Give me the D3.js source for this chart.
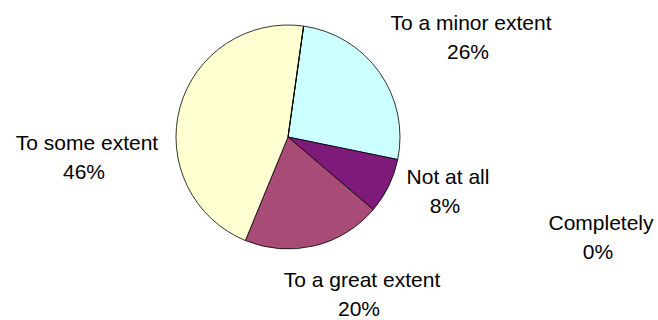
<!DOCTYPE html>
<head>
<meta charset="utf-8">
<style>
body { margin: 0; background: #fff; }
.label { font: 21px Arial, "Liberation Sans", sans-serif; fill: #000; text-anchor: middle; }
</style>
</head>
<body>
<script src="https://cdn.jsdelivr.net/npm/d3@7/dist/d3.min.js"></script>
<script>

// slices, clockwise from the top
var categories = ["To a minor extent", "Not at all", "To a great extent", "To some extent", "Completely"];
var values = [26, 8, 20, 46, 0];
var colors = ["#CCFFFF", "#7D1A7A", "#A84B77", "#FFFFD2", "#FFFFFF"];

// where each label sits (centre x, first baseline)
var labelPos = [[471, 30], [448, 184], [362, 287], [87, 150], [601, 230]];

var width = 658, height = 320;
var cx = 288, cy = 137, radius = 112;

var svg = d3.select("body")
    .append("svg")
        .attr("width", width)
        .attr("height", height);

var pie = d3.pie()
    .sort(null)
    .value(function(d) { return d; })
    .startAngle(8 * Math.PI / 180)
    .endAngle(8 * Math.PI / 180 + 2 * Math.PI);

var arc = d3.arc()
    .innerRadius(0)
    .outerRadius(radius);

var g = svg.append("g")
    .attr("transform", "translate(" + cx + "," + cy + ")");

g.selectAll("path")
    .data(pie(values))
    .enter().append("path")
        .attr("d", arc)
        .style("fill", function(d, i) { return colors[i]; })
        .style("stroke", "#000")
        .style("stroke-width", 0.8)
        .style("stroke-linejoin", "round");

// labels: name and percentage on two lines
var labels = svg.selectAll("text.label")
    .data(categories)
    .enter().append("text")
        .attr("class", "label")
        .attr("x", function(d, i) { return labelPos[i][0]; })
        .attr("y", function(d, i) { return labelPos[i][1]; });

labels.append("tspan")
    .attr("x", function(d, i) { return labelPos[i][0]; })
    .text(function(d) { return d; });

labels.append("tspan")
    .attr("x", function(d, i) { return labelPos[i][0] - 3; })
    .attr("dy", 29)
    .text(function(d, i) { return values[i] + "%"; });

</script>
</body>
